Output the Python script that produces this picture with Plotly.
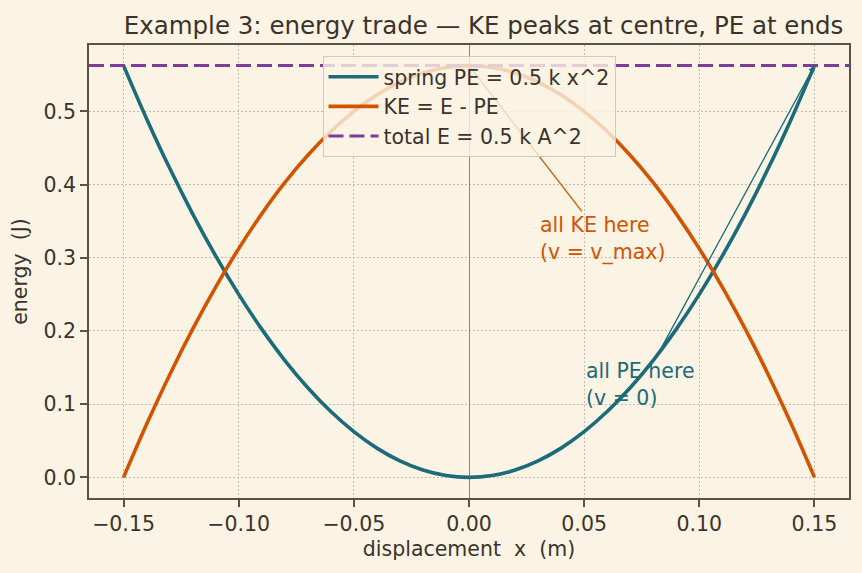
import plotly.graph_objects as go

# ---- data ----
x_m = [-0.15, -0.14, -0.13, -0.12, -0.11, -0.10, -0.09, -0.08, -0.07, -0.06, -0.05,
       -0.04, -0.03, -0.02, -0.01, 0.00, 0.01, 0.02, 0.03, 0.04, 0.05, 0.06, 0.07,
       0.08, 0.09, 0.10, 0.11, 0.12, 0.13, 0.14, 0.15]
pe_j = [0.5625, 0.49, 0.4225, 0.36, 0.3025, 0.25, 0.2025, 0.16, 0.1225, 0.09, 0.0625,
        0.04, 0.0225, 0.01, 0.0025, 0.0, 0.0025, 0.01, 0.0225, 0.04, 0.0625, 0.09, 0.1225,
        0.16, 0.2025, 0.25, 0.3025, 0.36, 0.4225, 0.49, 0.5625]
ke_j = [0.0, 0.0725, 0.14, 0.2025, 0.26, 0.3125, 0.36, 0.4025, 0.44, 0.4725, 0.5,
        0.5225, 0.54, 0.5525, 0.56, 0.5625, 0.56, 0.5525, 0.54, 0.5225, 0.5, 0.4725, 0.44,
        0.4025, 0.36, 0.3125, 0.26, 0.2025, 0.14, 0.0725, 0.0]
total_e = 0.5625
x_range = [-0.165, 0.165]
y_range = [-0.028125, 0.590625]

x_tickvals = [-0.15, -0.10, -0.05, 0.0, 0.05, 0.10, 0.15]
x_ticktext = ["\u22120.15", "\u22120.10", "\u22120.05", "0.00", "0.05", "0.10", "0.15"]
y_tickvals = [0.0, 0.1, 0.2, 0.3, 0.4, 0.5]
y_ticktext = ["0.0", "0.1", "0.2", "0.3", "0.4", "0.5"]

# annotation anchors (data coords)
ke_text_xy = (0.03, 0.30)
ke_text = "all KE here<br>(v = v_max)"
ke_arrow_tail = (0.049, 0.3635)
ke_arrow_head = (0.0, 0.5625)
pe_text_xy = (0.05, 0.10)
pe_text = "all PE here<br>(v = 0)"
pe_arrow_tail = (0.082, 0.168)
pe_arrow_head = (0.15, 0.5625)

# ---- style ----
BG = "#FBF3E4"
TXT = "#3b332b"
SPINE = "#5b5146"
GRID = "#c4bcae"
TEAL = "#1B6B7B"
ORANGE = "#D35400"
PURPLE = "#7D3C98"
FONT = "DejaVu Sans"
FS = 20.5

fig = go.Figure()
fig.add_trace(go.Scatter(x=x_m, y=pe_j, mode="lines", name="spring PE = 0.5 k x^2",
                         line=dict(color=TEAL, width=3.6, shape="spline", smoothing=1.0)))
fig.add_trace(go.Scatter(x=x_m, y=ke_j, mode="lines", name="KE = E - PE",
                         line=dict(color=ORANGE, width=3.6, shape="spline", smoothing=1.0)))
fig.add_trace(go.Scatter(x=x_range, y=[total_e, total_e], mode="lines",
                         name="total E = 0.5 k A^2",
                         line=dict(color=PURPLE, width=3.0, dash="15px,6px")))

# KE pointer: drawn as a shape so it sits beneath the semi-transparent legend
fig.add_shape(type="line", xref="x", yref="y", layer="above",
              x0=ke_arrow_tail[0], y0=ke_arrow_tail[1], x1=ke_arrow_head[0], y1=ke_arrow_head[1],
              line=dict(color=ORANGE, width=1.3))
fig.add_annotation(x=pe_arrow_head[0], y=pe_arrow_head[1], ax=pe_arrow_tail[0], ay=pe_arrow_tail[1],
                   xref="x", yref="y", axref="x", ayref="y", text="", showarrow=True,
                   arrowhead=2, arrowsize=1, arrowwidth=1.3, arrowcolor=TEAL)

fig.add_annotation(x=ke_text_xy[0], y=ke_text_xy[1], xref="x", yref="y", text=ke_text,
                   showarrow=False, xanchor="left", yanchor="bottom", align="left", yshift=-9,
                   font=dict(family=FONT, size=FS, color=ORANGE))
fig.add_annotation(x=pe_text_xy[0], y=pe_text_xy[1], xref="x", yref="y", text=pe_text,
                   showarrow=False, xanchor="left", yanchor="bottom", align="left", yshift=-8,
                   font=dict(family=FONT, size=FS, color=TEAL))

axis_common = dict(showline=True, linecolor=SPINE, linewidth=1.5, mirror=True,
                   ticks="outside", ticklen=7, tickwidth=1.5, tickcolor=SPINE,
                   showgrid=True, gridcolor=GRID, griddash="1.5px,2.5px", gridwidth=1,
                   tickfont=dict(family=FONT, size=FS, color=TXT))

fig.update_xaxes(range=x_range, tickvals=x_tickvals, ticktext=x_ticktext,
                 zeroline=True, zerolinecolor="#8a8580", zerolinewidth=1.2,
                 title=dict(text="displacement  x  (m)", standoff=6,
                            font=dict(family=FONT, size=FS, color=TXT)),
                 **axis_common)
fig.update_yaxes(range=y_range, tickvals=y_tickvals, ticktext=y_ticktext,
                 zeroline=False,
                 title=dict(text="energy  (J)", standoff=10,
                            font=dict(family=FONT, size=FS, color=TXT)),
                 **axis_common)

fig.update_layout(
    width=862, height=573,
    margin=dict(l=89, r=13, t=45, b=75),
    paper_bgcolor=BG, plot_bgcolor=BG,
    font=dict(family=FONT, size=FS, color=TXT),
    title=dict(text="Example 3: energy trade \u2014 KE peaks at centre, PE at ends",
               x=483.5 / 862, xanchor="center",
               y=1 - 25 / 573, yanchor="middle", yref="container",
               font=dict(family=FONT, size=24.5, color=TXT)),
    legend=dict(x=0.5, xanchor="center", y=0.976, yanchor="top", itemwidth=50,
                bgcolor="rgba(251,243,228,0.8)", bordercolor="#d0c9bd", borderwidth=1,
                font=dict(family=FONT, size=FS, color=TXT)),
    showlegend=True,
)

fig.write_html("out.html")
